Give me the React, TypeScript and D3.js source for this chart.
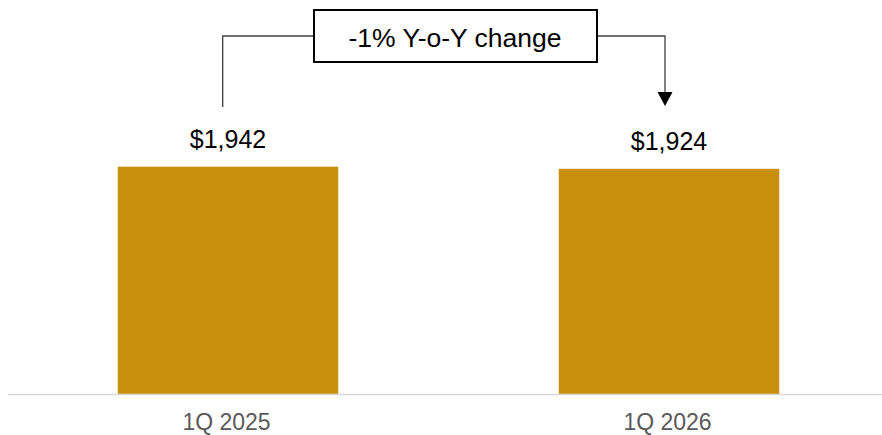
import React from "react";
import * as d3 from "d3";

const categories = ["1Q 2025", "1Q 2026"];
const values = [1942, 1924];
const valueLabels = ["$1,942", "$1,924"];
const annotationText = "-1% Y-o-Y change";

const W = 882;
const H = 435;

export default function App() {
  const x = d3
    .scaleBand<string>()
    .domain(categories)
    .range([7.5, 889.5])
    .paddingInner(0.5)
    .paddingOuter(0.25);
  const y = d3.scaleLinear().domain([0, 2500]).range([394, 101.4]);
  const bw = x.bandwidth();
  const cx = (c: string) => (x(c) as number) + bw / 2;

  const leftX = cx(categories[0]) - 5.3;
  const rightX = cx(categories[1]) - 4;
  const boxL = 314;
  const boxR = 597;
  const boxT = 10;
  const boxB = 62;
  const lineY = 36;
  const font = "Liberation Sans, Arial, Helvetica, sans-serif";

  return (
    <svg
      width={W}
      height={H}
      style={{ position: "absolute", left: 0, top: 0, background: "#fff" }}
      fontFamily={font}
    >
      {categories.map((c, i) => (
        <rect
          key={c}
          x={x(c)}
          y={y(values[i])}
          width={bw}
          height={y(0) - y(values[i])}
          fill="#C98F0F"
        />
      ))}
      <line x1={8} x2={882} y1={394.5} y2={394.5} stroke="#d9d9d9" strokeWidth={1.5} />
      {categories.map((c, i) => (
        <text
          key={"v" + c}
          x={cx(c)}
          y={y(values[i]) - 19}
          textAnchor="middle"
          fontSize={25}
          fill="#000"
        >
          {valueLabels[i]}
        </text>
      ))}
      {categories.map((c) => (
        <text
          key={"l" + c}
          x={cx(c) - 1.5}
          y={430}
          textAnchor="middle"
          fontSize={23}
          fill="#595959"
        >
          {c}
        </text>
      ))}
      <polyline
        points={`${leftX},107 ${leftX},${lineY} ${boxL},${lineY}`}
        fill="none"
        stroke="#404040"
        strokeWidth={1.3}
      />
      <polyline
        points={`${boxR},${lineY} ${rightX},${lineY} ${rightX},93`}
        fill="none"
        stroke="#404040"
        strokeWidth={1.3}
      />
      <path
        d={`M${rightX - 7.5},92 L${rightX + 7.5},92 L${rightX},106 Z`}
        fill="#000"
      />
      <rect
        x={boxL}
        y={boxT}
        width={boxR - boxL}
        height={boxB - boxT}
        fill="#fff"
        stroke="#000"
        strokeWidth={2}
      />
      <text
        x={(boxL + boxR) / 2 - 0.5}
        y={46.5}
        textAnchor="middle"
        fontSize={26.5}
        fill="#000"
      >
        {annotationText}
      </text>
    </svg>
  );
}
